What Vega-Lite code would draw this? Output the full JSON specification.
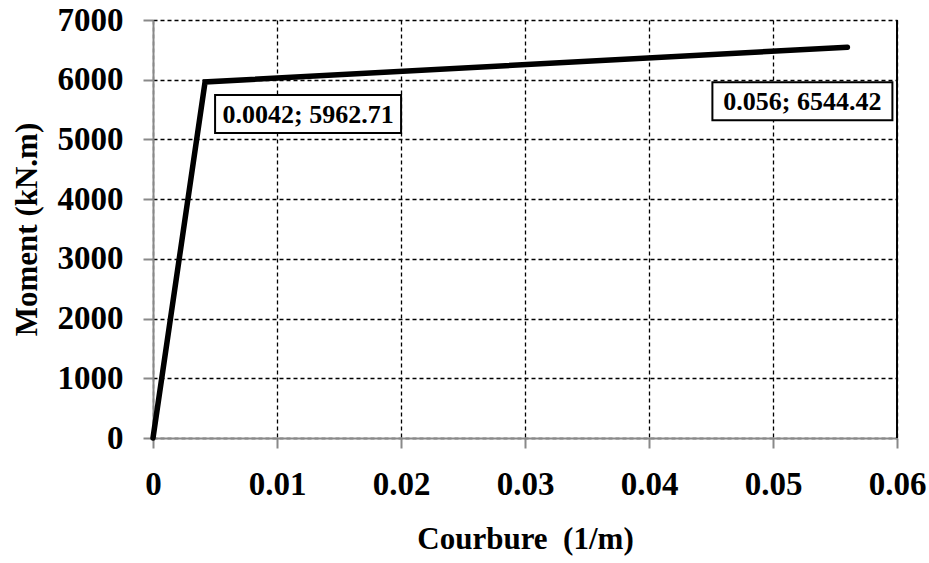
{
  "$schema": "https://vega.github.io/schema/vega-lite/v6.json",
  "width": 744,
  "height": 418,
  "autosize": {"type": "none"},
  "padding": {"left": 153, "top": 20, "right": 32, "bottom": 125},
  "background": "white",
  "config": {
    "view": {"stroke": null},
    "font": "Liberation Serif",
    "axis": {
      "labelFont": "Liberation Serif",
      "titleFont": "Liberation Serif",
      "labelFontWeight": "bold",
      "titleFontWeight": "bold",
      "labelColor": "black",
      "titleColor": "black",
      "labelFontSize": 33,
      "titleFontSize": 31,
      "domainColor": "#898989",
      "domainWidth": 2,
      "tickColor": "#898989",
      "tickWidth": 2,
      "tickSize": 10,
      "gridColor": "black",
      "gridDash": [4, 3],
      "gridWidth": 1.3,
      "gridOpacity": 1
    }
  },
  "datasets": {
    "curve": [
      {"k": 0, "m": 0, "label": ""},
      {"k": 0.0042, "m": 5962.71, "label": "0.0042; 5962.71"},
      {"k": 0.056, "m": 6544.42, "label": "0.056; 6544.42"}
    ]
  },
  "data": {"name": "curve"},
  "layer": [
    {
      "mark": {"type": "line", "color": "black", "strokeWidth": 5.5, "strokeCap": "round", "strokeJoin": "miter"},
      "encoding": {
        "x": {
          "field": "k", "type": "quantitative",
          "scale": {"domain": [0, 0.06], "nice": false},
          "axis": {"values": [0, 0.01, 0.02, 0.03, 0.04, 0.05, 0.06], "format": ".2~f", "title": "Courbure \u00a0(1/m)", "labelPadding": 20, "titlePadding": 23, "labelFlush": false}
        },
        "y": {
          "field": "m", "type": "quantitative",
          "scale": {"domain": [0, 7000], "nice": false},
          "axis": {"values": [0, 1000, 2000, 3000, 4000, 5000, 6000, 7000], "format": "d", "title": "Moment (kN.m)", "labelPadding": 20, "titlePadding": 14, "labelFlush": false}
        }
      }
    },
    {
      "mark": {"type": "rule", "color": "black", "strokeWidth": 1.5},
      "encoding": {"x": {"datum": 0.06}}
    },
    {
      "transform": [{"filter": "datum.k == 0.0042"}],
      "mark": {"type": "point", "shape": "M-1,-0.204L1,-0.204L1,0.204L-1,0.204Z", "size": 34596, "filled": true, "fill": "white", "stroke": "black", "strokeWidth": 2, "opacity": 1, "xOffset": 103, "yOffset": 32},
      "encoding": {"x": {"field": "k", "type": "quantitative"}, "y": {"field": "m", "type": "quantitative"}}
    },
    {
      "transform": [{"filter": "datum.k == 0.0042"}],
      "mark": {"type": "text", "font": "Liberation Serif", "fontWeight": "bold", "fontSize": 26, "color": "black", "align": "center", "baseline": "middle", "dx": 103, "dy": 33},
      "encoding": {"x": {"field": "k", "type": "quantitative"}, "y": {"field": "m", "type": "quantitative"}, "text": {"field": "label"}}
    },
    {
      "transform": [{"filter": "datum.k == 0.056"}],
      "mark": {"type": "point", "shape": "M-1,-0.211L1,-0.211L1,0.211L-1,0.211Z", "size": 32400, "filled": true, "fill": "white", "stroke": "black", "strokeWidth": 2, "opacity": 1, "xOffset": -45, "yOffset": 54},
      "encoding": {"x": {"field": "k", "type": "quantitative"}, "y": {"field": "m", "type": "quantitative"}}
    },
    {
      "transform": [{"filter": "datum.k == 0.056"}],
      "mark": {"type": "text", "font": "Liberation Serif", "fontWeight": "bold", "fontSize": 26, "color": "black", "align": "center", "baseline": "middle", "dx": -45, "dy": 55},
      "encoding": {"x": {"field": "k", "type": "quantitative"}, "y": {"field": "m", "type": "quantitative"}, "text": {"field": "label"}}
    }
  ]
}
